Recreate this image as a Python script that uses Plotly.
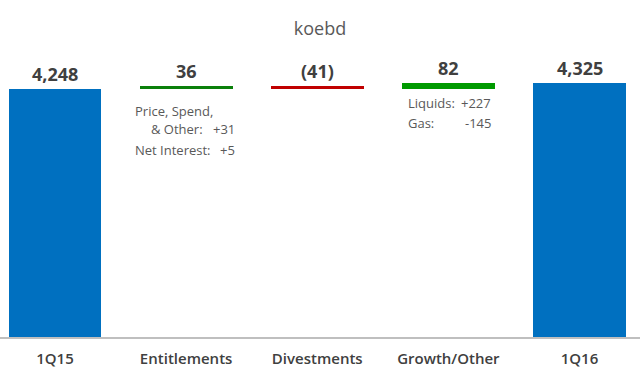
import plotly.graph_objects as go

# ---- data ----
categories = ["1Q15", "Entitlements", "Divestments", "Growth/Other", "1Q16"]
values = [4248, 36, -41, 82, 4325]
measures = ["total", "delta", "delta", "delta", "total"]
bar_colors = ["#0070C0", "#0A800A", "#C00000", "#009A00", "#0070C0"]

ent_labels = ["Price, Spend,", "& Other:", "Net Interest:"]
ent_values = ["", "+31", "+5"]
growth_labels = ["Liquids:", "Gas:"]
growth_values = ["+227", "-145"]

title_text = "koebd"

# ---- build bars (waterfall via base) ----
bases, heights, tops, bottoms = [], [], [], []
running = 0
for v, m in zip(values, measures):
    if m == "total":
        b = 0
        running = v
    else:
        b = running
        running += v
    bases.append(b)
    heights.append(v)
    tops.append(max(b, b + v))
    bottoms.append(min(b, b + v) if m == "delta" else v)

def fmt(v, m):
    if m == "total":
        return f"{v:,}"
    return f"{v}" if v >= 0 else f"({-v})"

fig = go.Figure()
fig.add_trace(go.Bar(
    x=categories, y=heights, base=bases,
    marker=dict(color=bar_colors, line=dict(width=0)),
    width=0.709, hoverinfo="skip", showlegend=False,
))

annotations = []
for c, t, v, m in zip(categories, tops, values, measures):
    annotations.append(dict(
        x=c, y=t, xref="x", yref="y", text=f"<b>{fmt(v, m)}</b>",
        showarrow=False, yanchor="bottom", yshift=1,
        font=dict(family="Open Sans", size=18, color="#404040"),
    ))

small = dict(family="Open Sans", size=13, color="#595959")
# Entitlements breakdown
ent_bottom = bottoms[1]
ent_y = [-22, -40, -61]
ent_left = [-53, -37, -53]
for lab, val, dy, dx in zip(ent_labels, ent_values, ent_y, ent_left):
    annotations.append(dict(x=categories[1], y=ent_bottom, xref="x", yref="y",
                            text=lab, showarrow=False, xanchor="left", yanchor="middle",
                            xshift=dx, yshift=dy, font=small))
    if val:
        annotations.append(dict(x=categories[1], y=ent_bottom, xref="x", yref="y",
                                text=val, showarrow=False, xanchor="right", yanchor="middle",
                                xshift=51, yshift=dy, font=small))
# Growth breakdown
g_bottom = bottoms[3]
g_y = [-14, -34]
for lab, val, dy in zip(growth_labels, growth_values, g_y):
    annotations.append(dict(x=categories[3], y=g_bottom, xref="x", yref="y",
                            text=lab, showarrow=False, xanchor="left", yanchor="middle",
                            xshift=-42, yshift=dy, font=small))
    annotations.append(dict(x=categories[3], y=g_bottom, xref="x", yref="y",
                            text=val, showarrow=False, xanchor="right", yanchor="middle",
                            xshift=45, yshift=dy, font=small))

top_m, bot_m = 40, 49
plot_h = 386 - top_m - bot_m
y0 = 1148
y1 = y0 + plot_h * 12.5

fig.update_layout(
    width=640, height=386,
    margin=dict(l=0, r=0, t=top_m, b=bot_m),
    paper_bgcolor="white", plot_bgcolor="white",
    title=dict(text=title_text, x=0.5, xanchor="center", y=1 - 29 / 386,
               yanchor="middle", yref="container",
               font=dict(family="Open Sans", size=18, color="#595959")),
    xaxis=dict(type="category", range=[-0.4194, 4.4614], showgrid=False,
               showline=True, linecolor="#BFBFBF", linewidth=1.5,
               ticks="outside", ticklen=7, tickcolor="rgba(0,0,0,0)",
               tickfont=dict(family="Open Sans", size=15, color="#404040", weight=600)),
    yaxis=dict(range=[y0, y1], visible=False, showgrid=False, zeroline=False),
    annotations=annotations,
    bargap=0,
)

fig.write_html(
    "out.html",
    config={"displayModeBar": False},
    post_script="document.body.style.margin='0';document.body.style.overflow='hidden';",
)
